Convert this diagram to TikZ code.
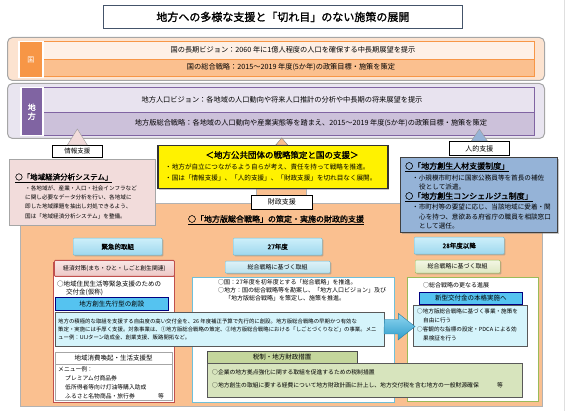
\documentclass[tikz,border=0pt]{standalone}
\usepackage{fontspec}
\setmainfont{Noto Sans CJK JP}[AutoFakeBold=1.5]
\usetikzlibrary{positioning}
\usetikzlibrary{shadows}

\definecolor{titleBlue}{HTML}{44546A}
\definecolor{kuniOrange}{HTML}{F79646}
\definecolor{kuniBand}{HTML}{FCE3D0}
\definecolor{kuniLight}{HTML}{FEF0E6}
\definecolor{kuniMid}{HTML}{FBC08F}
\definecolor{chihoPurple}{HTML}{8064A2}
\definecolor{chihoBand}{HTML}{E9E5F0}
\definecolor{chihoLight}{HTML}{E8E3EF}
\definecolor{chihoMid}{HTML}{CCC1DA}
\definecolor{infoPink}{HTML}{F2DCDB}
\definecolor{jinBlue}{HTML}{95B3D7}
\definecolor{zaiOrange}{HTML}{FAC090}
\definecolor{redBorder}{HTML}{C0504D}
\definecolor{centerBlue}{HTML}{6FC0DA}
\definecolor{rightGreen}{HTML}{9BBB59}
\definecolor{barCyan}{HTML}{55C3F0}
\definecolor{paleCyan}{HTML}{D5F4FB}
\definecolor{oliveHead}{HTML}{C4D69C}
\definecolor{paleGreen}{HTML}{D7E4BD}
\definecolor{arrowBlue}{HTML}{2E9CCB}
\definecolor{arrowTop}{HTML}{8FD6F0}
\definecolor{btnTop}{HTML}{CDEFFA}
\definecolor{btnBottom}{HTML}{9ED8EE}
\definecolor{leftTop}{HTML}{F8E6E5}
\definecolor{leftBottom}{HTML}{EDC7C5}
\definecolor{centerTop}{HTML}{DDF1F7}
\definecolor{centerBottom}{HTML}{B9E2EE}
\definecolor{rightTop}{HTML}{F3F6E4}
\definecolor{rightBottom}{HTML}{DDE7C2}

\begin{document}
\begin{tikzpicture}[x=1pt,y=-1pt]

    \tikzset{box/.style = {draw, inner sep=0pt, anchor=north west}}
    \tikzset{shadowed/.style = {drop shadow={shadow xshift=1.2pt, shadow yshift=-1.2pt, opacity=0.45}}}
    \tikzset{rowbox/.style = {box, line width=0.8pt, font=\fontsize{7.2}{8}\selectfont}}
    \tikzset{tagbox/.style = {box, fill=white, draw=black, line width=0.7pt, font=\fontsize{7}{8}\selectfont}}
    \tikzset{colbtn/.style = {box, top color=btnTop, bottom color=btnBottom, draw=centerBlue, rounded corners=1pt, shadowed, font=\fontsize{6.5}{7}\selectfont\bfseries}}
    \tikzset{bar/.style = {box, fill=barCyan, draw=blue!50!black, line width=0.6pt, font=\fontsize{6.5}{7}\selectfont}}
    \tikzset{txt/.style = {inner sep=0pt, anchor=west, font=\fontsize{5.6}{6}\selectfont}}
    \tikzset{head/.style = {inner sep=0pt, anchor=west, font=\fontsize{8}{9}\selectfont\bfseries}}

    \useasboundingbox (0,0) rectangle (570,411);
    \draw[gray!25] (564,0) -- (564,411);

    % title
    \node[box, draw=titleBlue, line width=0.8pt, minimum width=359, minimum height=23,
          font=\fontsize{11}{12}\selectfont\bfseries] (title) at (103,5) {地方への多様な支援と「切れ目」のない施策の展開};

    % kuni band
    \node[box, draw=gray!70, line width=1pt, rounded corners=5pt, fill=kuniBand, minimum width=537, minimum height=43] (kuniband) at (7,37) {};
    \node[rowbox, fill=kuniLight, draw=kuniOrange, minimum width=492, minimum height=18] (kunirow1) at (42,41) {};
    \node[rowbox, fill=kuniMid, draw=kuniOrange, minimum width=492, minimum height=17] (kunirow2) at (42,59) {};
    \node[box, fill=kuniOrange, draw=white, line width=1.5pt, minimum width=24, minimum height=36,
          text=white, font=\fontsize{7}{8}\selectfont] (kunitag) at (18,41) {国};
    \node[inner sep=0pt, font=\fontsize{7.2}{8}\selectfont] (kunivision) at (293,50) {国の長期ビジョン：2060 年に1億人程度の人口を確保する中長期展望を提示};
    \node[inner sep=0pt, font=\fontsize{7.2}{8}\selectfont] (kuniplan) at (291,67.5) {国の総合戦略：2015～2019 年度(5か年)の政策目標・施策を策定};

    % chiho band
    \node[box, draw=gray!70, line width=1pt, rounded corners=5pt, fill=chihoBand, minimum width=537, minimum height=55] (chihoband) at (7,83) {};
    \node[rowbox, fill=chihoLight, draw=chihoPurple, minimum width=492, minimum height=25] (chihorow1) at (42,87) {};
    \node[rowbox, fill=chihoMid, draw=chihoPurple, minimum width=492, minimum height=23] (chihorow2) at (42,112) {};
    \node[box, fill=chihoPurple, draw=white, line width=1.5pt, minimum width=22, minimum height=48, align=center,
          text=white, font=\fontsize{8}{9}\selectfont\bfseries] (chihotag) at (20,87) {地\\方};
    \node[inner sep=0pt, font=\fontsize{7.2}{8}\selectfont] (chihovision) at (282,99.5) {地方人口ビジョン：各地域の人口動向や将来人口推計の分析や中長期の将来展望を提示};
    \node[inner sep=0pt, font=\fontsize{7.2}{8}\selectfont] (chihoplan) at (311,123.5) {地方版総合戦略：各地域の人口動向や産業実態等を踏まえ、2015～2019 年度(5か年)の政策目標・施策を策定};

    % financial support area
    \node[box, fill=zaiOrange, draw=gray!60, minimum width=522, minimum height=203] (zaiarea) at (20,203) {};

    % information support
    \node[tagbox, minimum width=50, minimum height=12, font=\fontsize{6.5}{7}\selectfont] (infotag) at (52,145) {情報支援};
    \draw[fill=infoPink, draw=gray!80] ([xshift=-10pt]infotag.north) -- ++(10,-16) -- ++(10,16) -- cycle;
    \node[box, fill=infoPink, draw=gray!70, minimum width=146, minimum height=66, shadowed] (infopanel) at (9,159) {};
    \node[head, font=\fontsize{7.5}{8}\selectfont\bfseries] (infohead) at (15,178) {\underline{○「地域経済分析システム」}};
    \node[txt] (info1) at (25,188) {・各地域が、産業・人口・社会インフラなど};
    \node[txt] (info2) at (25,197) {に関し必要なデータ分析を行い、各地域に};
    \node[txt] (info3) at (25,206) {即した地域課題を抽出し対処できるよう、};
    \node[txt] (info4) at (25,216) {国は「地域経済分析システム」を整備。};

    % strategy box
    \node[box, fill=zaiOrange, draw=gray!60, minimum width=50, minimum height=8] (zaineck) at (256,188) {};
    \node[box, fill=yellow, draw=black!80, line width=1.5pt, minimum width=230, minimum height=43, shadowed] (strategy) at (157,145) {};
    \draw[fill=zaiOrange, draw=gray] ([xshift=3pt]strategy.north) -- ++(6,-7) -- ++(6,7) -- cycle;
    \node[inner sep=0pt, font=\fontsize{8.5}{9}\selectfont\bfseries] (strategyhead) at (282,155) {＜地方公共団体の戦略策定と国の支援＞};
    \node[txt, font=\fontsize{6.6}{7}\selectfont] (strategy1) at (165,167) {・地方が自立につながるよう自らが考え、責任を持って戦略を推進。};
    \node[txt, font=\fontsize{6.6}{7}\selectfont] (strategy2) at (165,178) {・国は「情報支援」、「人的支援」、「財政支援」を切れ目なく展開。};
    \node[tagbox, minimum width=61, minimum height=14] (zaitag) at (251,195) {財政支援};

    % human support
    \node[tagbox, minimum width=60, minimum height=14] (jintag) at (449,141) {人的支援};
    \draw[fill=jinBlue, draw=gray!80] ([xshift=-8pt]jintag.north) -- ++(8,-12) -- ++(8,12) -- cycle;
    \node[box, fill=jinBlue, draw=black!75, line width=0.8pt, minimum width=157, minimum height=75, shadowed] (jinpanel) at (400,157) {};
    \node[head] (jinhead1) at (405,167) {\underline{○「地方創生人材支援制度」}};
    \node[txt, font=\fontsize{6.6}{7}\selectfont] (jin1) at (412,178) {・小規模市町村に国家公務員等を首長の補佐};
    \node[txt, font=\fontsize{6.6}{7}\selectfont] (jin2) at (419,187) {役として派遣。};
    \node[head] (jinhead2) at (405,197) {\underline{○「地方創生コンシェルジュ制度」}};
    \node[txt, font=\fontsize{6.6}{7}\selectfont] (jin3) at (412,207) {・市町村等の要望に応じ、当該地域に愛着・関};
    \node[txt, font=\fontsize{6.6}{7}\selectfont] (jin4) at (419,217) {心を持つ、意欲ある府省庁の職員を相談窓口};
    \node[txt, font=\fontsize{6.6}{7}\selectfont] (jin5) at (419,226) {として選任。};

    % financial support heading and columns
    \node[inner sep=0pt, font=\fontsize{8}{9}\selectfont\bfseries] (zaihead) at (276,220) {\underline{○「地方版総合戦略」の策定・実施の財政的支援}};
    \node[colbtn, minimum width=89, minimum height=17] (urgent) at (73,238) {緊急的取組};
    \node[colbtn, minimum width=89, minimum height=17] (fy27) at (233,238) {27年度};
    \node[colbtn, minimum width=90, minimum height=17] (fy28) at (414,237) {28年度以降};

    % left column
    \node[box, fill=white, draw=redBorder, line width=1pt, minimum width=121, minimum height=140] (leftcol) at (53,262) {};
    \node[box, top color=leftTop, bottom color=leftBottom, draw=redBorder, line width=0.8pt, rounded corners=1pt,
          minimum width=120, minimum height=16, font=\fontsize{5.8}{6}\selectfont] (lefthead) at (54,260) {経済対策(まち・ひと・しごと創生関連)};
    \node[txt, font=\fontsize{6.5}{7}\selectfont] (left1) at (57,284) {○地域住民生活等緊急支援のための};
    \node[txt, font=\fontsize{6.5}{7}\selectfont] (left2) at (66,292) {交付金(仮称)};
    \node[bar, minimum width=113, minimum height=13] (pioneer) at (55,297) {地方創生先行型の創設};
    \node[box, fill=white, draw=gray!70, minimum width=117, minimum height=12, font=\fontsize{6.5}{7}\selectfont] (consumehead) at (55,352) {地域消費喚起・生活支援型};
    \node[box, fill=white, draw=gray!70, minimum width=117, minimum height=36] (consumebox) at (55,364) {};
    \node[txt, font=\fontsize{5.8}{6}\selectfont] (menu0) at (58,369) {メニュー例：};
    \node[txt, font=\fontsize{5.8}{6}\selectfont] (menu1) at (65,378) {プレミアム付商品券};
    \node[txt, font=\fontsize{5.8}{6}\selectfont] (menu2) at (65,387) {低所得者等向け灯油等購入助成};
    \node[txt, font=\fontsize{5.8}{6}\selectfont] (menu3) at (65,396) {ふるさと名物商品・旅行券};
    \node[txt, font=\fontsize{5.8}{6}\selectfont] (menuetc) at (158,396) {等};

    % center column
    \node[box, top color=centerTop, bottom color=centerBottom, draw=centerBlue, rounded corners=1pt, shadowed,
          minimum width=105, minimum height=12, font=\fontsize{6}{7}\selectfont] (centerhead) at (225,261) {総合戦略に基づく取組};
    \node[box, fill=white, draw=centerBlue, line width=1pt, minimum width=202, minimum height=125] (centercol) at (192,277) {};
    \node[txt, font=\fontsize{6}{7}\selectfont] (center1) at (218,282) {○国：27年度を初年度とする「総合戦略」を推進。};
    \node[txt, font=\fontsize{6}{7}\selectfont] (center2) at (218,290) {○地方：国の総合戦略等を勘案し、「地方人口ビジョン」及び};
    \node[txt, font=\fontsize{6}{7}\selectfont] (center3) at (225,298) {「地方版総合戦略」を策定し、施策を推進。};

    % right column
    \node[box, top color=rightTop, bottom color=rightBottom, draw=rightGreen, rounded corners=1pt, shadowed,
          minimum width=85, minimum height=13, font=\fontsize{6}{7}\selectfont] (righthead) at (415,260) {総合戦略に基づく取組};
    \node[box, fill=white, draw=rightGreen, line width=1pt, minimum width=131, minimum height=124] (rightcol) at (407,277) {};
    \node[txt, font=\fontsize{6}{7}\selectfont] (right0) at (423,285) {○総合戦略の更なる進展};
    \node[bar, minimum width=103, minimum height=12] (newgrant) at (419,292) {新型交付金の本格実施へ};
    \node[box, fill=paleCyan, draw=black!65, minimum width=114, minimum height=41, shadowed] (newgrantbox) at (413,305) {};
    \node[txt] (right1) at (417,311) {○地方版総合戦略に基づく事業・施策を};
    \node[txt] (right2) at (423,320) {自由に行う};
    \node[txt] (right3) at (417,329) {○客観的な指標の設定・PDCA による効};
    \node[txt] (right4) at (423,338) {果検証を行う};

    % pioneer details and arrow
    \node[box, fill=paleCyan, draw=black!65, minimum width=329, minimum height=34, shadowed] (longbox) at (55,312) {};
    \node[txt, font=\fontsize{5.4}{6}\selectfont] (long1) at (58,321) {地方の積極的な取組を支援する自由度の高い交付金を、26 年度補正予算で先行的に創設。地方版総合戦略の早期かつ有効な};
    \node[txt, font=\fontsize{5.4}{6}\selectfont] (long2) at (58,329) {策定・実施には手厚く支援。対象事業は、①地方版総合戦略の策定、②地方版総合戦略における「しごとづくりなど」の事業。メニ};
    \node[txt, font=\fontsize{5.4}{6}\selectfont] (long3) at (58,337) {ュー例：UIJターン助成金、創業支援、販路開拓など。};
    \coordinate (arrowtip) at (415,326.5);
    \path[top color=arrowTop, bottom color=arrowBlue, draw=arrowBlue!80!black, line width=0.4pt]
        (longbox.east |- arrowtip) ++(0,-7) -- ++(14,0) -- ++(0,-6) -- (arrowtip) -- ++(-17,13.5) -- ++(0,-6) -- ++(-14,0) -- cycle;

    % tax measures
    \node[box, fill=oliveHead, draw=black!70, minimum width=150, minimum height=12, font=\fontsize{6.5}{7}\selectfont] (taxhead) at (207,351) {税制・地方財政措置};
    \node[box, fill=paleGreen, draw=black!65, minimum width=315, minimum height=34, shadowed] (taxbox) at (207,363) {};
    \node[txt, font=\fontsize{5.8}{6}\selectfont] (tax1) at (212,372) {○企業の地方拠点強化に関する取組を促進するための税制措置};
    \node[txt, font=\fontsize{5.8}{6}\selectfont] (tax2) at (212,385) {○地方創生の取組に要する経費について地方財政計画に計上し、地方交付税を含む地方の一般財源確保};
    \node[txt, font=\fontsize{5.8}{6}\selectfont] (taxetc) at (497,385) {等};

\end{tikzpicture}
\end{document}
